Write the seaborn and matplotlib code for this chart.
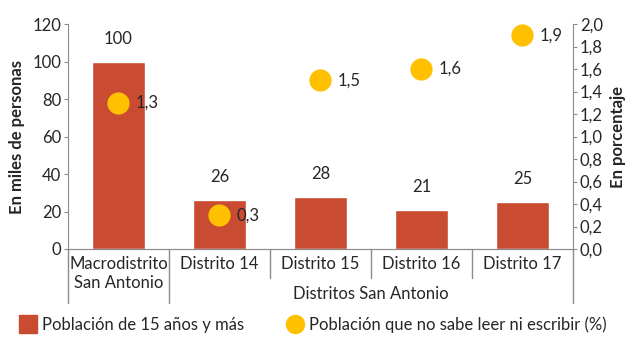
import matplotlib
matplotlib.use('Agg')
import matplotlib.pyplot as plt
import pandas as pd
import seaborn as sns
from matplotlib.lines import Line2D

categorias = ['Macrodistrito\nSan Antonio', 'Distrito 14', 'Distrito 15', 'Distrito 16', 'Distrito 17']
poblacion = [100, 26, 28, 21, 25]
analfabetos = [1.3, 0.3, 1.5, 1.6, 1.9]
etiquetas_pct = ['1,3', '0,3', '1,5', '1,6', '1,9']

rojo = '#C94B32'
amarillo = '#FFC000'
gris = '#8C8C8C'

sns.set_style('white')
plt.rcParams['font.family'] = ['Lato', 'DejaVu Sans']

df = pd.DataFrame({'cat': categorias, 'pob': poblacion, 'pct': analfabetos})

fig = plt.figure(figsize=(6.39, 3.51), dpi=100)
ax = fig.add_axes([0.1064, 0.2906, 0.7903, 0.641])
sns.barplot(data=df, x='cat', y='pob', color=rojo, width=0.52, saturation=1, ax=ax)
ax.set_ylim(0, 120)
ax.set_yticks(range(0, 121, 20))
ax.set_xlim(-0.5, 4.5)
ax.set_xlabel('')
ax.set_ylabel('En miles de personas', fontsize=12, fontweight='bold', labelpad=5)
ax.tick_params(axis='y', labelsize=12, length=3, color=gris, pad=2, left=True)
ax.tick_params(axis='x', labelsize=12, length=0, pad=5)
for i, v in enumerate(poblacion):
    ax.text(i, v + 8, str(v), ha='center', va='bottom', fontsize=12)

ax2 = ax.twinx()
sns.stripplot(data=df, x='cat', y='pct', color=amarillo, size=16, jitter=False, ax=ax2, zorder=3)
ax2.set_ylim(0, 2.0)
ax2.set_xlim(-0.5, 4.5)
ax2.set_yticks([i / 10 for i in range(0, 21, 2)])
ax2.set_yticklabels([f'{i / 10:.1f}'.replace('.', ',') for i in range(0, 21, 2)])
ax2.set_ylabel('En porcentaje', fontsize=12, fontweight='bold', labelpad=5)
ax2.tick_params(axis='y', labelsize=12, length=3, color=gris, pad=2, right=True)
for i, (v, t) in enumerate(zip(analfabetos, etiquetas_pct)):
    ax2.text(i + 0.17, v, t, ha='left', va='center', fontsize=12)

for a in (ax, ax2):
    a.spines['top'].set_visible(False)
    for s in ['left', 'right', 'bottom']:
        a.spines[s].set_color(gris)
ax.spines['right'].set_visible(False)
ax2.spines['left'].set_visible(False)

# separadores del eje categorico
tr = ax.get_xaxis_transform()
for xs, ybot in [(-0.5, -0.24), (0.5, -0.24), (1.5, -0.13), (2.5, -0.13), (3.5, -0.13), (4.5, -0.24)]:
    ax.add_line(Line2D([xs, xs], [0, ybot], transform=tr, color=gris, lw=1, clip_on=False))
ax.text(2.5, -0.2, 'Distritos San Antonio', transform=tr, ha='center', va='center', fontsize=12)

handles = [Line2D([], [], marker='s', ls='', color=rojo, markersize=12.5,
                  label='Población de 15 años y más'),
           Line2D([], [], marker='o', ls='', color=amarillo, markersize=13,
                  label='Población que no sabe leer ni escribir (%)')]
fig.legend(handles=handles, loc='center', bbox_to_anchor=(0.49, 0.075), ncol=2, frameon=False,
           fontsize=12, handlelength=1.0, handletextpad=0.3, columnspacing=2.6)

fig.savefig('out.png', dpi=100)
